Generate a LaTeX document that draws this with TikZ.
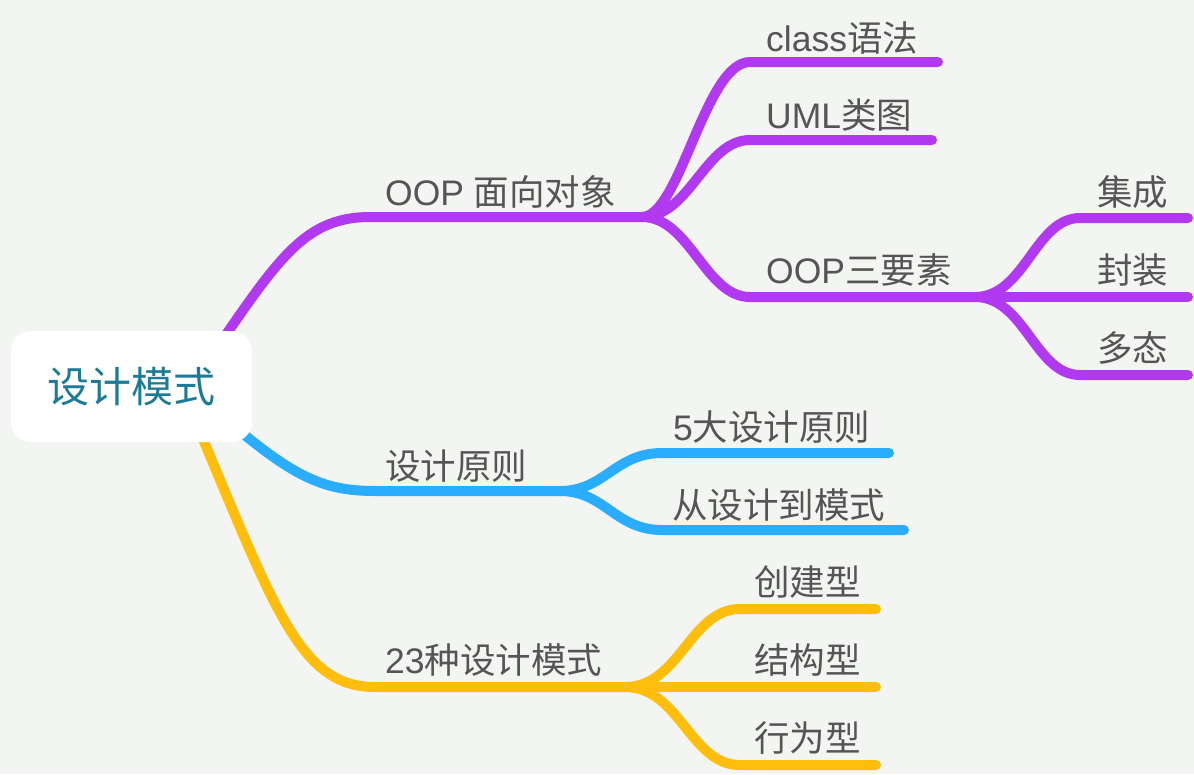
\documentclass[tikz,border=0pt]{standalone}
\usepackage{fontspec}
\setmainfont{Noto Sans CJK SC}
\newfontfamily\lat{Liberation Sans}
\definecolor{bgc}{RGB}{243,245,242}
\definecolor{purp}{RGB}{177,58,240}
\definecolor{bluec}{RGB}{42,172,255}
\definecolor{yel}{RGB}{255,189,12}
\definecolor{txt}{RGB}{85,85,85}
\definecolor{teal}{RGB}{28,124,150}
\begin{document}
\begin{tikzpicture}[x=1pt,y=-1pt,
  branch/.style={line width=10pt,line cap=round},
  lbl/.style={anchor=west,inner sep=0pt,text=txt,font=\fontsize{35.5}{40}\selectfont},
  rootbox/.style={fill=white,rounded corners=20pt,minimum width=241pt,minimum height=111pt,inner sep=0pt,text=teal,font=\fontsize{42}{48}\selectfont}]
\fill[bgc] (0,0) rectangle (1194,774);
\useasboundingbox (0,0) rectangle (1194,774);
% coordinates
\coordinate (s1) at (200,372);
\coordinate (h1) at (370,217);
\coordinate (f1) at (642,217);
\coordinate (s2) at (215,410);
\coordinate (h2) at (375,491);
\coordinate (f2) at (560,491);
\coordinate (s3) at (195,420);
\coordinate (h3) at (375,687);
\coordinate (f3) at (625,687);
% OOP subtree
\coordinate (a1) at (750,62);  \coordinate (a1e) at (938,62);
\coordinate (a2) at (750,140); \coordinate (a2e) at (932,140);
\coordinate (a3) at (750,297); \coordinate (f4) at (975,297);
\coordinate (b1) at (1080,218); \coordinate (b1e) at (1188,218);
\coordinate (b2e) at (1188,297);
\coordinate (b3) at (1080,375); \coordinate (b3e) at (1188,375);
% blue subtree
\coordinate (c1) at (662,453); \coordinate (c1e) at (889,453);
\coordinate (c2) at (662,530); \coordinate (c2e) at (904,530);
% yellow subtree
\coordinate (d1) at (740,609); \coordinate (d1e) at (876,609);
\coordinate (d2e) at (876,687);
\coordinate (d3) at (740,765); \coordinate (d3e) at (876,765);

% purple
\draw[branch,purp] (s1) .. controls (275,265) and (300,217) .. (h1) -- (f1);
\draw[branch,purp] (f1) .. controls (680,217) and (705,62) .. (a1) -- (a1e);
\draw[branch,purp] (f1) .. controls (690,217) and (705,140) .. (a2) -- (a2e);
\draw[branch,purp] (f1) .. controls (690,217) and (705,297) .. (a3) -- (f4);
\draw[branch,purp] (f4) .. controls (1025,297) and (1035,218) .. (b1) -- (b1e);
\draw[branch,purp] (f4) -- (b2e);
\draw[branch,purp] (f4) .. controls (1025,297) and (1035,375) .. (b3) -- (b3e);
% blue
\draw[branch,bluec] (s2) .. controls (290,475) and (320,491) .. (h2) -- (f2);
\draw[branch,bluec] (f2) .. controls (605,491) and (615,453) .. (c1) -- (c1e);
\draw[branch,bluec] (f2) .. controls (605,491) and (615,530) .. (c2) -- (c2e);
% yellow
\draw[branch,yel] (s3) .. controls (275,610) and (300,687) .. (h3) -- (f3);
\draw[branch,yel] (f3) .. controls (680,687) and (690,609) .. (d1) -- (d1e);
\draw[branch,yel] (f3) -- (d2e);
\draw[branch,yel] (f3) .. controls (680,687) and (690,765) .. (d3) -- (d3e);

% root
\node[rootbox] (root) at (131.5,386.5) {设计模式};

% labels
\node[lbl] (oop) at (385,192) {{\lat OOP }面向对象};
\node[lbl] (dp) at (385,466) {设计原则};
\node[lbl] (p23) at (385,660) {{\lat 23}种设计模式};
\node[lbl] (cls) at (766,38) {{\lat class}语法};
\node[lbl] (uml) at (766,115) {{\lat UML}类图};
\node[lbl] (oop3) at (766,270) {{\lat OOP}三要素};
\node[lbl] (jc) at (1097,192) {集成};
\node[lbl] (fz) at (1097,270) {封装};
\node[lbl] (dt) at (1097,348) {多态};
\node[lbl] (p5) at (673,427) {{\lat 5}大设计原则};
\node[lbl] (cs) at (672,505) {从设计到模式};
\node[lbl] (cj) at (754,582) {创建型};
\node[lbl] (jg) at (754,660) {结构型};
\node[lbl] (xw) at (754,738) {行为型};
\end{tikzpicture}
\end{document}
